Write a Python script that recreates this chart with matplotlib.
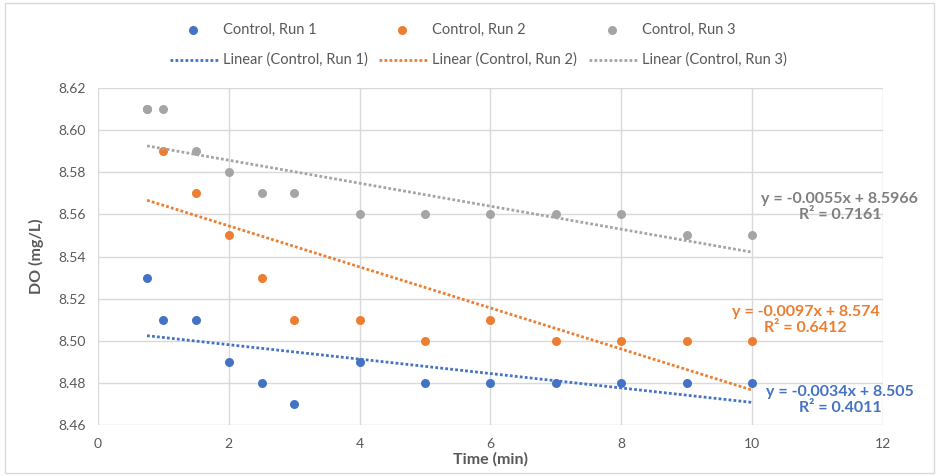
import numpy as np
import matplotlib.pyplot as plt
from matplotlib.lines import Line2D
from matplotlib.patches import Rectangle

plt.rcParams['font.family'] = ['Lato', 'DejaVu Sans']

# data
time_min = [0.75, 1, 1.5, 2, 2.5, 3, 4, 5, 6, 7, 8, 9, 10]
run1 = [8.53, 8.51, 8.51, 8.49, 8.48, 8.47, 8.49, 8.48, 8.48, 8.48, 8.48, 8.48, 8.48]
run2 = [8.61, 8.59, 8.57, 8.55, 8.53, 8.51, 8.51, 8.50, 8.51, 8.50, 8.50, 8.50, 8.50]
run3 = [8.61, 8.61, 8.59, 8.58, 8.57, 8.57, 8.56, 8.56, 8.56, 8.56, 8.56, 8.55, 8.55]
names = ["Control, Run 1", "Control, Run 2", "Control, Run 3"]
eq_text = ["y = -0.0034x + 8.505\nR² = 0.4011",
           "y = -0.0097x + 8.574\nR² = 0.6412",
           "y = -0.0055x + 8.5966\nR² = 0.7161"]
eq_pos = [(11.34, 8.4719), (10.82, 8.5099), (11.34, 8.5635)]

colors = ["#4472C4", "#ED7D31", "#A5A5A5"]
text_colors = ["#4472C4", "#ED7D31", "#7F7F7F"]
tick_col = "#595959"
dots = (0, (1, 0.8))

W, H = 939, 476
fig = plt.figure(figsize=(W / 100, H / 100), dpi=100)
fig.patches.append(Rectangle((0.005, 0.006), 0.99, 0.988, transform=fig.transFigure,
                             fill=False, edgecolor="#D9D9D9", linewidth=1))
ax = fig.add_axes([98 / W, 1 - 425 / H, 785 / W, 337 / H])

x = np.array(time_min)
for ys, c, nm in zip([run1, run2, run3], colors, names):
    ax.scatter(x, ys, s=42, color=c, zorder=3, label=nm, linewidths=0)
for ys, c, nm, txt, tc, pos in zip([run1, run2, run3], colors, names, eq_text, text_colors, eq_pos):
    m, b = np.polyfit(x, ys, 1)
    xx = np.array([x.min(), x.max()])
    ax.plot(xx, m * xx + b, linestyle=dots, color=c, linewidth=2, zorder=4)
    ax.text(pos[0], pos[1], txt, color=tc, fontsize=11.5, fontweight="bold",
            ha="center", va="center", linespacing=1.25)

ax.set_xlim(0, 12)
ax.set_ylim(8.46, 8.62)
ax.set_xticks(np.arange(0, 13, 2))
ax.set_yticks(np.arange(8.46, 8.621, 0.02))
ax.yaxis.set_major_formatter(plt.FormatStrFormatter("%.2f"))
ax.grid(True, color="#D9D9D9", linewidth=1)
ax.set_axisbelow(True)
for s in ax.spines.values():
    s.set_visible(False)
ax.tick_params(length=0, colors=tick_col, labelsize=10, pad=9)
ax.set_xlabel("Time (min)", fontsize=11.5, fontweight="bold", color=tick_col, labelpad=2)
ax.set_ylabel("DO (mg/L)", fontsize=11.5, fontweight="bold", color=tick_col, labelpad=10)

# legend, laid out like the Excel one: markers on the first row, trendlines below
text_x = [223, 432, 642]
for i in range(3):
    tx = text_x[i] / W
    y1 = 1 - 30 / H
    y2 = 1 - 60 / H
    fig.add_artist(Line2D([(text_x[i] - 30) / W], [y1], marker="o", markersize=6.5,
                          color=colors[i], markeredgewidth=0, linestyle="none"))
    fig.text(tx, y1, names[i], fontsize=10.5, color=tick_col, va="center", ha="left")
    fig.add_artist(Line2D([(text_x[i] - 53) / W, (text_x[i] - 4) / W], [y2, y2],
                          linestyle=dots, linewidth=2, color=colors[i]))
    fig.text(tx, y2, "Linear (" + names[i] + ")", fontsize=10.5, color=tick_col,
             va="center", ha="left")

fig.savefig("out.png", dpi=100)
